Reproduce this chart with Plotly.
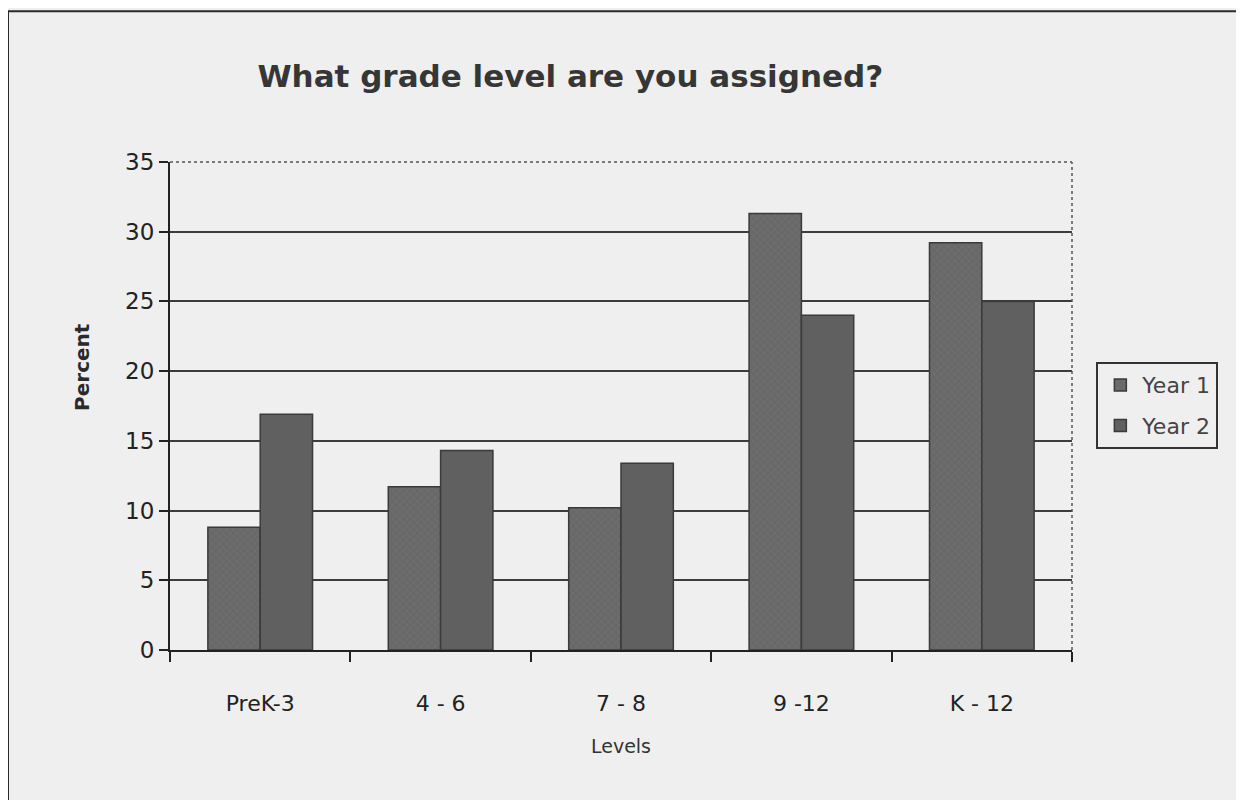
import plotly.graph_objects as go

# Data
levels = ["PreK-3", "4 - 6", "7 - 8", "9 -12", "K - 12"]
year1 = [8.8, 11.7, 10.2, 31.3, 29.2]
year2 = [16.9, 14.3, 13.4, 24.0, 25.0]
y_ticks = [0, 5, 10, 15, 20, 25, 30, 35]

BG = "#efefef"
FONT = "DejaVu Sans"

fig = go.Figure()

fig.add_trace(go.Bar(
    x=levels, y=year1, name="Year 1", legendgroup="y1",
    marker=dict(color="#686868", line=dict(color="#3a3a3a", width=1.5),
                pattern=dict(shape="x", size=5, solidity=0.15, fgcolor="#8c8c8c")),
))
fig.add_trace(go.Bar(
    x=levels, y=year2, name="Year 2", legendgroup="y2",
    marker=dict(color="#606060", line=dict(color="#3a3a3a", width=1.5)),
))

# page body adds 8px, so margins are shifted by that much
fig.update_layout(
    width=1244, height=800,
    paper_bgcolor=BG, plot_bgcolor=BG,
    font=dict(family=FONT, color="#2e2e2e", size=20),
    margin=dict(l=162, r=180, t=154, b=158),
    barmode="group", bargap=0.42, bargroupgap=0,
    title=dict(text="What grade level are you assigned?", x=0.452, xanchor="center",
               y=0.915, yanchor="middle",
               font=dict(family=FONT, size=31, color="#363636", weight="bold")),
    legend=dict(x=1.027, y=0.59, xanchor="left", yanchor="top",
                bgcolor=BG, bordercolor="#333333", borderwidth=2,
                font=dict(size=22, color="#444444"), itemwidth=34,
                traceorder="grouped", tracegroupgap=9),
    xaxis=dict(
        showline=True, linecolor="#222222", linewidth=2,
        ticks="outside", tickson="boundaries", ticklen=10, tickwidth=2, tickcolor="#222222",
        tickfont=dict(size=22, color="#222222"), ticklabelstandoff=33,
        title=dict(text="Levels", font=dict(size=19, color="#333333"), standoff=24),
        showgrid=False,
    ),
    yaxis=dict(
        range=[0, 35], tickvals=y_ticks,
        showline=True, linecolor="#222222", linewidth=2,
        ticks="outside", ticklen=9, tickwidth=2, tickcolor="#222222",
        tickfont=dict(size=23, color="#222222"),
        showgrid=True, gridcolor="#3c3c3c", gridwidth=2, zeroline=False,
    ),
    annotations=[
        dict(text="Percent", textangle=-90, xref="paper", yref="paper",
             x=-0.0976, y=0.58, showarrow=False, xanchor="center", yanchor="middle",
             font=dict(family=FONT, size=20, color="#2a2a2a", weight="bold")),
    ],
    shapes=[
        # cover the top gridline then draw the dotted plot border
        dict(type="line", xref="paper", yref="paper", x0=0.003, x1=1, y0=1, y1=1,
             line=dict(color=BG, width=4), layer="above"),
        dict(type="line", xref="paper", yref="paper", x0=0, x1=1, y0=1, y1=1,
             line=dict(color="#555555", width=1.5, dash="dot"), layer="above"),
        dict(type="line", xref="paper", yref="paper", x0=1, x1=1, y0=0, y1=1,
             line=dict(color="#555555", width=1.5, dash="dot"), layer="above"),
        # outer frame of the chart
        dict(type="rect", xref="paper", yref="paper", x0=-0.1796, x1=1.187, y0=-0.34, y1=1.309,
             line=dict(color="#2a2a2a", width=2), fillcolor="rgba(0,0,0,0)", layer="below"),
    ],
)

fig.write_html("out.html")
